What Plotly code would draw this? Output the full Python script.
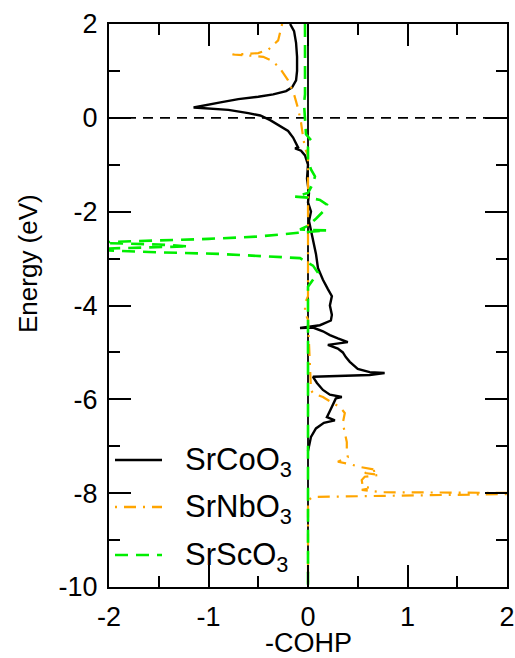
import plotly.graph_objects as go

# -COHP curves (x) versus energy (y, eV)
series_names = ["SrCoO<sub>3</sub>", "SrNbO<sub>3</sub>", "SrScO<sub>3</sub>"]

co_energy = [2.0, 1.85, 1.6, 1.3, 1.0, 0.8, 0.65, 0.57, 0.5, 0.45, 0.4, 0.36, 0.33, 0.22, 0.2,
             0.17, 0.1, 0.05, -0.05, -0.17, -0.28, -0.42, -0.55, -0.63, -0.65, -0.7, -0.8,
             -1.0, -1.3, -1.6, -1.8, -2.0, -2.2, -2.4, -2.6, -2.9, -3.2, -3.45, -3.65, -3.8,
             -4.0, -4.2, -4.32, -4.42, -4.48, -4.47, -4.55, -4.63, -4.7, -4.78, -4.84, -4.92,
             -5.0, -5.1, -5.2, -5.28, -5.35, -5.42, -5.44, -5.48, -5.52, -5.65, -5.8, -5.9,
             -5.95, -5.98, -6.1, -6.25, -6.38, -6.45, -6.5, -6.62, -6.8, -7.1]
co_cohp = [-0.18, -0.14, -0.12, -0.11, -0.11, -0.12, -0.16, -0.22, -0.35, -0.5, -0.7, -0.82,
           -0.88, -1.15, -0.95, -0.8, -0.6, -0.48, -0.38, -0.28, -0.2, -0.15, -0.12, -0.1,
           -0.13, -0.07, -0.03, 0.0, -0.01, 0.01, 0.0, 0.03, 0.01, 0.03, 0.05, 0.08, 0.1,
           0.15, 0.2, 0.24, 0.22, 0.24, 0.23, 0.12, -0.08, 0.05, 0.15, 0.22, 0.3, 0.4, 0.2,
           0.3, 0.35, 0.38, 0.42, 0.46, 0.5, 0.62, 0.77, 0.62, 0.05, 0.09, 0.15, 0.22, 0.34,
           0.28, 0.25, 0.22, 0.19, 0.27, 0.16, 0.08, 0.03, 0.0]

nb_energy = [2.0, 1.65, 1.45, 1.38, 1.36, 1.35, 1.33, 1.3, 1.2, 1.05, 0.8, 0.5, 0.2, -0.1,
             -0.4, -0.65, -0.8, -2.0, -3.8, -3.95, -4.16, -4.3, -5.5, -5.8, -5.87, -5.95,
             -6.08, -6.16, -6.29, -6.5, -6.72, -6.91, -7.08, -7.23, -7.33, -7.38, -7.44,
             -7.51, -7.57, -7.61, -7.65, -7.72, -7.86, -7.89, -7.93, -7.98, -8.0, -8.08,
             -8.15, -10.0]
nb_cohp = [-0.26, -0.3, -0.4, -0.5, -0.62, -0.76, -0.6, -0.45, -0.35, -0.28, -0.2, -0.14,
           -0.1, -0.07, -0.05, -0.03, 0.0, 0.0, 0.0, -0.03, -0.03, 0.0, 0.02, 0.03, 0.05,
           0.15, 0.25, 0.32, 0.37, 0.35, 0.37, 0.39, 0.39, 0.4, 0.3, 0.42, 0.52, 0.7, 0.57,
           0.72, 0.57, 0.54, 0.55, 0.64, 0.54, 0.75, 2.6, 0.05, 0.0, 0.0]

sc_energy = [2.0, 0.5, 0.3, 0.0, -0.2, -0.35, -0.5, -0.62, -0.9, -1.1, -1.25, -1.4, -1.6,
             -1.68, -1.7, -1.75, -1.85, -2.0, -2.15, -2.3, -2.38, -2.4, -2.45, -2.53, -2.58,
             -2.62, -2.66, -2.7, -2.74, -2.8, -2.86, -2.9, -2.95, -2.99, -3.15, -3.3, -3.45,
             -3.6, -10.0]
sc_cohp = [-0.03, -0.03, -0.04, -0.03, -0.03, -0.02, 0.04, 0.0, 0.0, 0.03, 0.07, 0.05, 0.0,
           -0.13, 0.0, 0.12, 0.19, 0.15, 0.08, 0.0, -0.08, 0.19, -0.1, -0.5, -1.0, -1.5,
           -2.2, -1.5, -1.2, -2.3, -1.6, -0.9, -0.4, -0.08, 0.05, 0.1, 0.05, 0.0, 0.0]

x_ticks = [-2, -1, 0, 1, 2]
x_tick_labels = ["-2", "-1", "0", "1", "2"]
y_ticks = [-10, -8, -6, -4, -2, 0, 2]
y_tick_labels = ["-10", "-8", "-6", "-4", "-2", "0", "2"]

colors = ["black", "#FFA500", "#00EE00"]
dashes = ["solid", "2px,7px,12px,7px", "13px,8px"]
widths = [2.4, 2.2, 2.6]

font = "Liberation Sans, Arial, sans-serif"

fig = go.Figure()
curves = [(co_cohp, co_energy), (nb_cohp, nb_energy), (sc_cohp, sc_energy)]
for (xs, ys), name, c, d, w in zip(curves, series_names, colors, dashes, widths):
    fig.add_trace(go.Scatter(x=xs, y=ys, mode="lines", name=name, showlegend=False,
                             line=dict(color=c, dash=d, width=w)))

# zero reference lines: Fermi level and zero COHP
fig.add_shape(type="line", xref="paper", yref="y", x0=0, x1=1, y0=0, y1=0,
              line=dict(color="black", width=1.6, dash="10px,7px"), layer="below")
fig.add_shape(type="line", xref="x", yref="paper", x0=0, x1=0, y0=0, y1=1,
              line=dict(color="black", width=1.8), layer="below")

# legend drawn as line samples and labels inside the lower-left corner
L, R, T, B = 109, 507, 24, 587
def px(xp):
    return (xp - L) / (R - L)
def py(yp):
    return (B - yp) / (B - T)

row_y = [460, 507, 555]
for name, c, d, yy in zip(series_names, colors, dashes, row_y):
    fig.add_shape(type="line", xref="paper", yref="paper", x0=px(115), x1=px(162),
                  y0=py(yy), y1=py(yy), line=dict(color=c, dash=d, width=2.6))
    fig.add_annotation(xref="paper", yref="paper", x=px(183), y=py(yy + 2),
                       xanchor="left", yanchor="middle", showarrow=False, text=name,
                       font=dict(size=31, color="black", family=font))

# axis titles
fig.add_annotation(xref="paper", yref="paper", x=px(28), y=py(264), xanchor="center",
                   yanchor="middle", textangle=-90, showarrow=False, text="Energy (eV)",
                   font=dict(size=26, color="black", family=font))
fig.add_annotation(xref="paper", yref="paper", x=px(308), y=py(643), xanchor="center",
                   yanchor="middle", showarrow=False, text="-COHP", borderpad=0,
                   font=dict(size=27, color="black", family=font))

axis_common = dict(showline=True, linecolor="black", linewidth=2, mirror="allticks",
                   ticks="inside", ticklen=22, tickwidth=2, tickcolor="black",
                   showgrid=False, zeroline=False, automargin=False,
                   tickfont=dict(size=27, color="black", family=font))

fig.update_xaxes(range=[-2, 2], tickvals=x_ticks, ticktext=x_tick_labels,
                 minor=dict(dtick=0.5, ticklen=11, tickwidth=2, ticks="inside",
                            tickcolor="black", showgrid=False),
                 ticklabelstandoff=5, **axis_common)
fig.update_yaxes(range=[-10, 2], tickvals=y_ticks, ticktext=y_tick_labels,
                 minor=dict(dtick=1, ticklen=11, tickwidth=2, ticks="inside",
                            tickcolor="black", showgrid=False),
                 ticklabelstandoff=4, **axis_common)

fig.update_layout(width=515, height=658, margin=dict(l=109, r=8, t=24, b=71),
                  plot_bgcolor="white", paper_bgcolor="white", showlegend=False,
                  font=dict(family=font, color="black"))

fig.write_html("out.html")
